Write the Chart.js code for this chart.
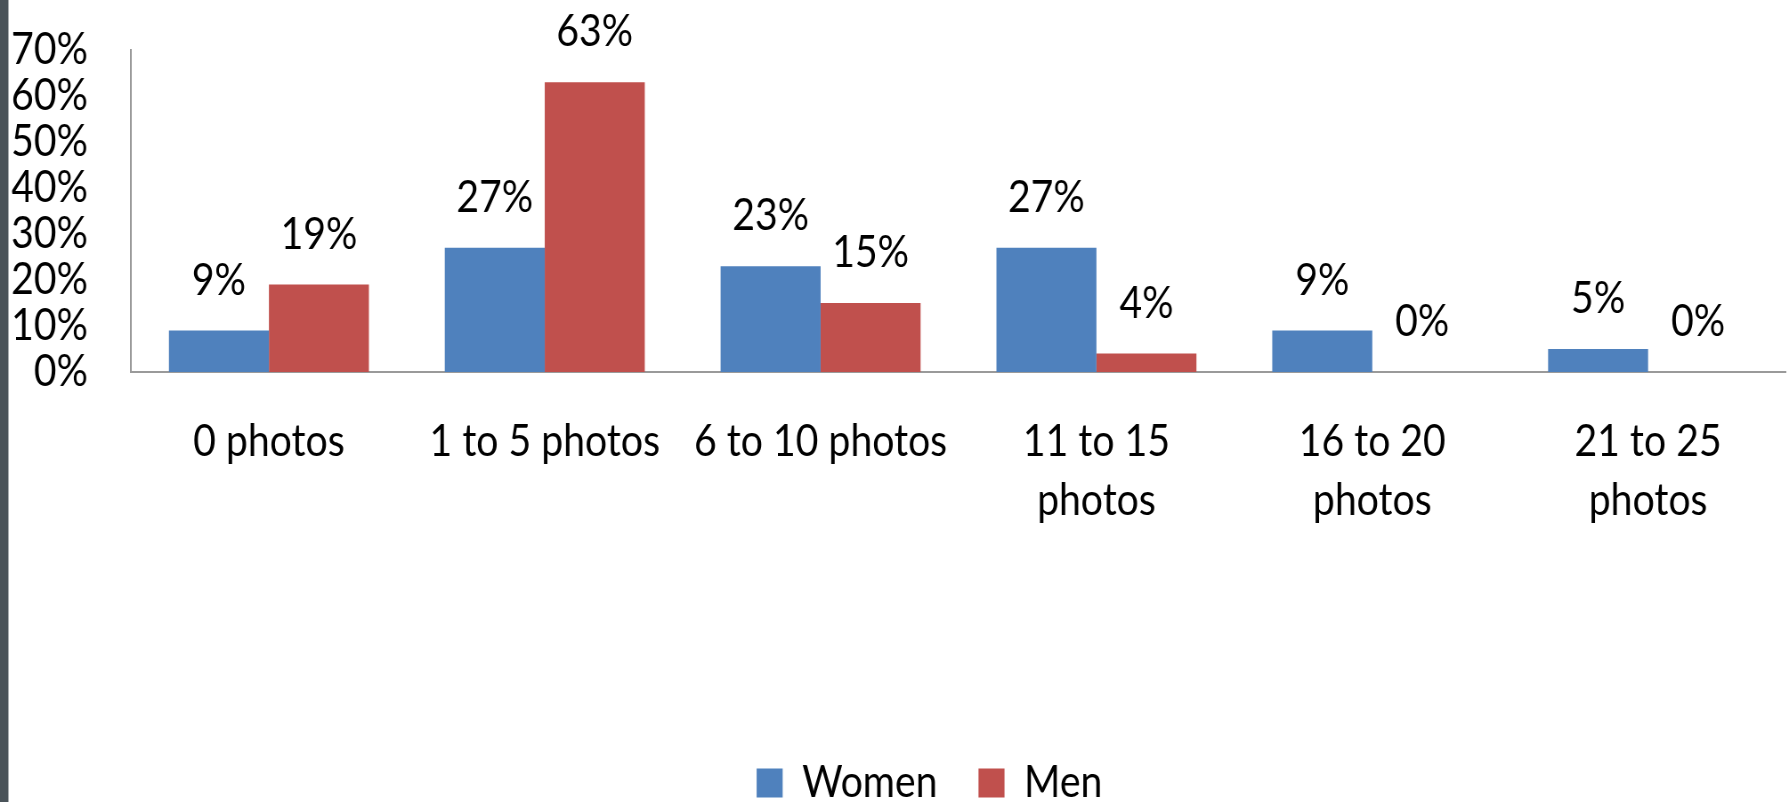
<!DOCTYPE html>
<html>
<head>
<meta charset="utf-8">
<script src="https://cdn.jsdelivr.net/npm/chart.js@4/dist/chart.umd.min.js"></script>
<style>
    html, body { margin: 0; padding: 0; background: #ffffff; overflow: hidden; }
    #page { position: relative; width: 1789px; height: 802px; overflow: hidden; }
    #squeeze { position: absolute; left: 0; top: 0; transform-origin: 0 0; }
    #edge { position: absolute; left: 0; top: 0; width: 8px; height: 802px; background: #4a5359; border-right: 1px solid #a9aeb1; }
    canvas { display: block; }
</style>
</head>
<body>
<div id="page">
    <div id="squeeze"><canvas id="photos"></canvas></div>
    <div id="edge"></div>
</div>
<script>
const categories = [
    '0 photos',
    '1 to 5 photos',
    '6 to 10 photos',
    ['11 to 15', 'photos'],
    ['16 to 20', 'photos'],
    ['21 to 25', 'photos']
];
const women = [9, 27, 23, 27, 9, 5];
const men = [19, 63, 15, 4, 0, 0];
const yTicks = [0, 10, 20, 30, 40, 50, 60, 70];

// The canvas is drawn wider than the page and squeezed back horizontally,
// which gives the tall, narrow lettering of the original slide.
const PAGE_W = 1789;
const PAGE_H = 802;
const SQUEEZE = 0.89;
const CANVAS_W = Math.round(PAGE_W / SQUEEZE);
const sx = (px) => px * CANVAS_W / PAGE_W;

const FONT_FAMILY = 'Lato, "Open Sans", sans-serif';
const FONT_SIZE = 44;
const PLOT_LEFT = 131;
const PLOT_TOP = 50;
const PLOT_BOTTOM = 372;
const PAD_LEFT = 12;
const PAD_RIGHT = 3;
const PAD_BOTTOM = -13;
const LEGEND_CENTER = 929.5;
const LABEL_GAP = 50;

const canvas = document.getElementById('photos');
canvas.width = CANVAS_W;
canvas.height = PAGE_H;
document.getElementById('squeeze').style.transform = `scaleX(${PAGE_W / CANVAS_W})`;

/**
 * Writes the value of every bar above it, centred on the bar.
 */
const valueLabels = {
    id: 'valueLabels',
    afterDatasetsDraw(chart) {
        const { ctx } = chart;

        ctx.save();
        ctx.font = `${FONT_SIZE}px ${FONT_FAMILY}`;
        ctx.fillStyle = '#000000';
        ctx.textAlign = 'center';
        ctx.textBaseline = 'middle';

        chart.data.datasets.forEach((dataset, i) => {
            const meta = chart.getDatasetMeta(i);

            meta.data.forEach((bar, j) => {
                ctx.fillText(`${dataset.data[j]}%`, bar.x, bar.y - LABEL_GAP);
            });
        });

        ctx.restore();
    }
};

/**
 * Moves the legend row so it sits a little right of the page centre.
 */
const legendShift = {
    id: 'legendShift',
    afterLayout(chart) {
        const legend = chart.legend;
        if (!legend) {
            return;
        }

        const shift = sx(LEGEND_CENTER) - (legend.left + legend.right) / 2;
        legend.left += shift;
        legend.right += shift;
    }
};

new Chart(canvas, {
    type: 'bar',
    data: {
        labels: categories,
        datasets: [
            { label: 'Women', data: women, backgroundColor: '#4f81bd', borderWidth: 0 },
            { label: 'Men', data: men, backgroundColor: '#c0504d', borderWidth: 0 }
        ]
    },
    options: {
        responsive: false,
        animation: false,
        devicePixelRatio: 1,
        layout: {
            padding: { left: sx(PAD_LEFT), right: sx(PAD_RIGHT), top: PLOT_TOP, bottom: PAD_BOTTOM }
        },
        datasets: {
            bar: { categoryPercentage: 0.725, barPercentage: 1 }
        },
        scales: {
            x: {
                grid: { display: false, drawTicks: false },
                border: { color: '#9a9a9a', width: 2 },
                ticks: {
                    color: '#000000',
                    padding: 40,
                    maxRotation: 0,
                    autoSkip: false,
                    font: { family: FONT_FAMILY, size: FONT_SIZE, lineHeight: 1.34 }
                },
                afterFit: (scale) => {
                    const legendHeight = scale.chart.legend ? scale.chart.legend.height : 0;
                    scale.height = scale.chart.height - PAD_BOTTOM - PLOT_BOTTOM - legendHeight;
                }
            },
            y: {
                min: 0,
                max: 70,
                grid: { display: false, drawTicks: false },
                border: { color: '#9a9a9a', width: 2 },
                afterBuildTicks: (scale) => {
                    scale.ticks = yTicks.map((value) => ({ value }));
                },
                ticks: {
                    color: '#000000',
                    padding: sx(43),
                    autoSkip: false,
                    callback: (value) => `${value}%`,
                    font: { family: FONT_FAMILY, size: FONT_SIZE }
                },
                afterFit: (scale) => {
                    scale.width = sx(PLOT_LEFT - PAD_LEFT);
                    scale.paddingTop = 0;
                    scale.paddingBottom = 0;
                }
            }
        },
        plugins: {
            tooltip: { enabled: false },
            legend: {
                position: 'bottom',
                labels: {
                    color: '#000000',
                    boxWidth: sx(26),
                    boxHeight: 29,
                    padding: sx(41),
                    font: { family: FONT_FAMILY, size: FONT_SIZE }
                }
            }
        }
    },
    plugins: [valueLabels, legendShift]
});
</script>
</body>
</html>
